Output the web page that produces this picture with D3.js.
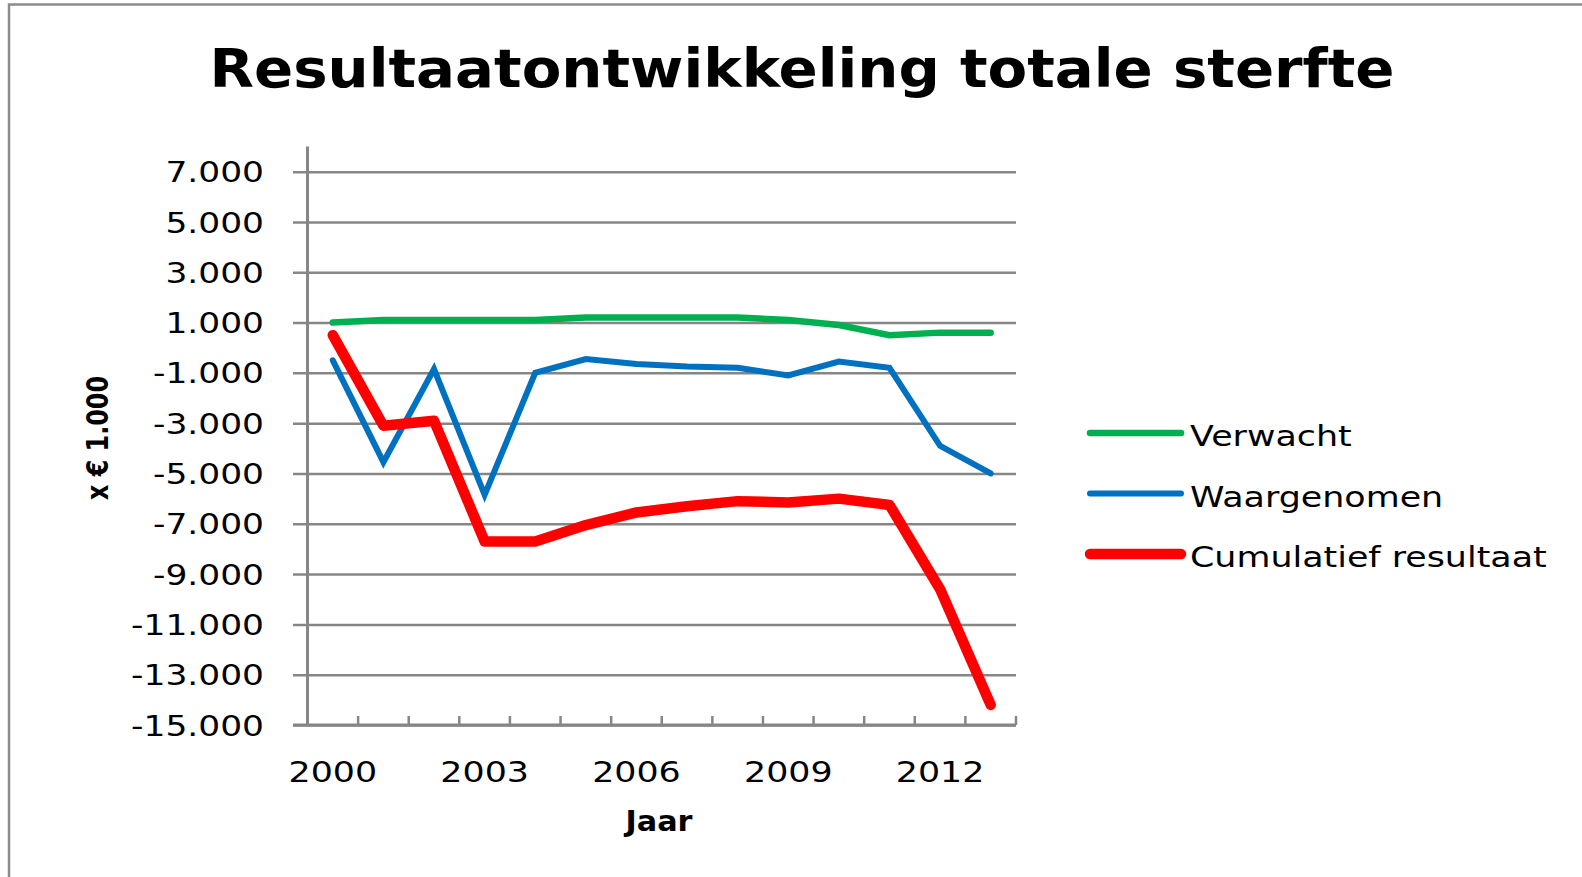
<!DOCTYPE html>
<html>
<head>
<meta charset="utf-8">
<script src="https://cdn.jsdelivr.net/npm/d3@7"></script>
<style>
  html, body { margin: 0; padding: 0; background: #fff; }
  svg { display: block; }
</style>
</head>
<body>
<div id="chart"></div>
<script>
// data (x € 1.000)
const years = [2000, 2001, 2002, 2003, 2004, 2005, 2006, 2007, 2008, 2009, 2010, 2011, 2012, 2013];
const verwacht = [1000, 1100, 1100, 1100, 1100, 1200, 1200, 1200, 1200, 1100, 900, 500, 600, 600];
const waargenomen = [-500, -4550, -850, -5850, -1000, -450, -650, -750, -800, -1100, -550, -800, -3900, -5000];
const cumulatief = [500, -3100, -2900, -7700, -7700, -7050, -6550, -6300, -6100, -6150, -6000, -6250, -9600, -14200];
const seriesNames = ["Verwacht", "Waargenomen", "Cumulatief resultaat"];
const yTicks = [7000, 5000, 3000, 1000, -1000, -3000, -5000, -7000, -9000, -11000, -13000, -15000];
const xLabelYears = [2000, 2003, 2006, 2009, 2012];

const GREEN = "#00b050";
const BLUE = "#0070c0";
const RED = "#ff0000";
const GRID = "#868686";

const W = 1582, H = 877;
const plotLeft = 307.5, plotRight = 1016, plotTop = 146.5, plotBottom = 725;

const nl = d3.formatLocale({decimal: ",", thousands: ".", grouping: [3], currency: ["€", ""], minus: "-"});
const fmt = nl.format(",d");

const svg = d3.select("#chart").append("svg")
  .attr("width", W)
  .attr("height", H);

// stretch text horizontally like the original
function stretch(sel, k) {
  sel.each(function() {
    const w = this.getComputedTextLength();
    d3.select(this).attr("textLength", w * k).attr("lengthAdjust", "spacingAndGlyphs");
  });
}

// outer chart border
svg.append("path")
  .attr("d", "M9," + H + "V4.5H" + W)
  .attr("fill", "none")
  .attr("stroke", "#8c8c8c")
  .attr("stroke-width", 2.5);

// title
svg.append("text")
  .attr("x", 802)
  .attr("y", 87)
  .attr("text-anchor", "middle")
  .style("font-family", "DejaVu Sans")
  .style("font-weight", "bold")
  .style("font-size", "53px")
  .attr("textLength", 1185)
  .attr("lengthAdjust", "spacingAndGlyphs")
  .text("Resultaatontwikkeling totale sterfte");

const x = d3.scaleBand().domain(years).range([plotLeft, plotRight]);
const y = d3.scaleLinear().domain([-15000, 8000]).range([plotBottom, plotTop]);

// gridlines
const grid = svg.append("g")
  .attr("transform", "translate(293,0)")
  .call(d3.axisLeft(y).tickValues(yTicks).tickSize(-(plotRight - 293)).tickFormat(""));
grid.select(".domain").remove();
grid.selectAll("line").attr("stroke", GRID).attr("stroke-width", 2.5);

// y labels
const yLab = svg.append("g")
  .attr("transform", "translate(264,0)")
  .call(d3.axisLeft(y).tickValues(yTicks).tickSize(0).tickPadding(0).tickFormat(fmt));
yLab.select(".domain").remove();
yLab.selectAll("text")
  .attr("dy", "0.36em")
  .style("font-family", "DejaVu Sans")
  .style("font-size", "28px")
  .attr("fill", "#000")
  .call(stretch, 1.23);

// y axis line
svg.append("line")
  .attr("x1", plotLeft).attr("x2", plotLeft)
  .attr("y1", y(8000)).attr("y2", y(-15000))
  .attr("stroke", GRID).attr("stroke-width", 3);

// x axis line + tick marks between categories
svg.append("line")
  .attr("x1", 293).attr("x2", plotRight)
  .attr("y1", y(-15000)).attr("y2", y(-15000))
  .attr("stroke", GRID).attr("stroke-width", 3);
svg.append("g").selectAll("line")
  .data(years)
  .join("line")
  .attr("x1", d => x(d) + x.bandwidth())
  .attr("x2", d => x(d) + x.bandwidth())
  .attr("y1", y(-15000))
  .attr("y2", y(-15000) - 9)
  .attr("stroke", GRID).attr("stroke-width", 2.5);

// x labels
const xLab = svg.append("g")
  .attr("transform", "translate(0," + plotBottom + ")")
  .call(d3.axisBottom(x).tickValues(xLabelYears).tickSize(0));
xLab.select(".domain").remove();
xLab.selectAll("text")
  .attr("y", 57)
  .attr("dy", null)
  .style("font-family", "DejaVu Sans")
  .style("font-size", "29px")
  .attr("fill", "#000")
  .call(stretch, 1.2);

// axis titles
svg.append("text")
  .attr("x", 659)
  .attr("y", 831)
  .attr("text-anchor", "middle")
  .style("font-family", "DejaVu Sans")
  .style("font-weight", "bold")
  .style("font-size", "29px")
  .attr("textLength", 67)
  .attr("lengthAdjust", "spacingAndGlyphs")
  .text("Jaar");

svg.append("text")
  .attr("transform", "translate(108,438) rotate(-90)")
  .attr("text-anchor", "middle")
  .style("font-family", "DejaVu Sans")
  .style("font-weight", "bold")
  .style("font-size", "30px")
  .attr("textLength", 124)
  .attr("lengthAdjust", "spacingAndGlyphs")
  .text("x € 1.000");

// lines
const series = [
  {name: seriesNames[0], values: verwacht, color: GREEN, width: 6.5},
  {name: seriesNames[1], values: waargenomen, color: BLUE, width: 6},
  {name: seriesNames[2], values: cumulatief, color: RED, width: 10.5}
];

const line = d3.line()
  .x((d, i) => x(years[i]) + x.bandwidth() / 2)
  .y(d => y(d));

svg.append("g").selectAll("path")
  .data(series)
  .join("path")
  .attr("d", d => line(d.values))
  .attr("fill", "none")
  .attr("stroke", d => d.color)
  .attr("stroke-width", d => d.width)
  .attr("stroke-linecap", "round")
  .attr("stroke-linejoin", d => d.width > 8 ? "round" : "miter");

// legend
const legend = svg.append("g").selectAll("g")
  .data(series)
  .join("g")
  .attr("transform", (d, i) => "translate(0," + (433 + i * 60.5) + ")");
legend.append("line")
  .attr("x1", 1090).attr("x2", 1181)
  .attr("stroke", d => d.color)
  .attr("stroke-width", d => d.width)
  .attr("stroke-linecap", "round");
legend.append("text")
  .attr("x", 1190)
  .attr("y", 13)
  .style("font-family", "DejaVu Sans")
  .style("font-size", "28px")
  .attr("fill", "#000")
  .text(d => d.name)
  .call(stretch, 1.245);
</script>
</body>
</html>
